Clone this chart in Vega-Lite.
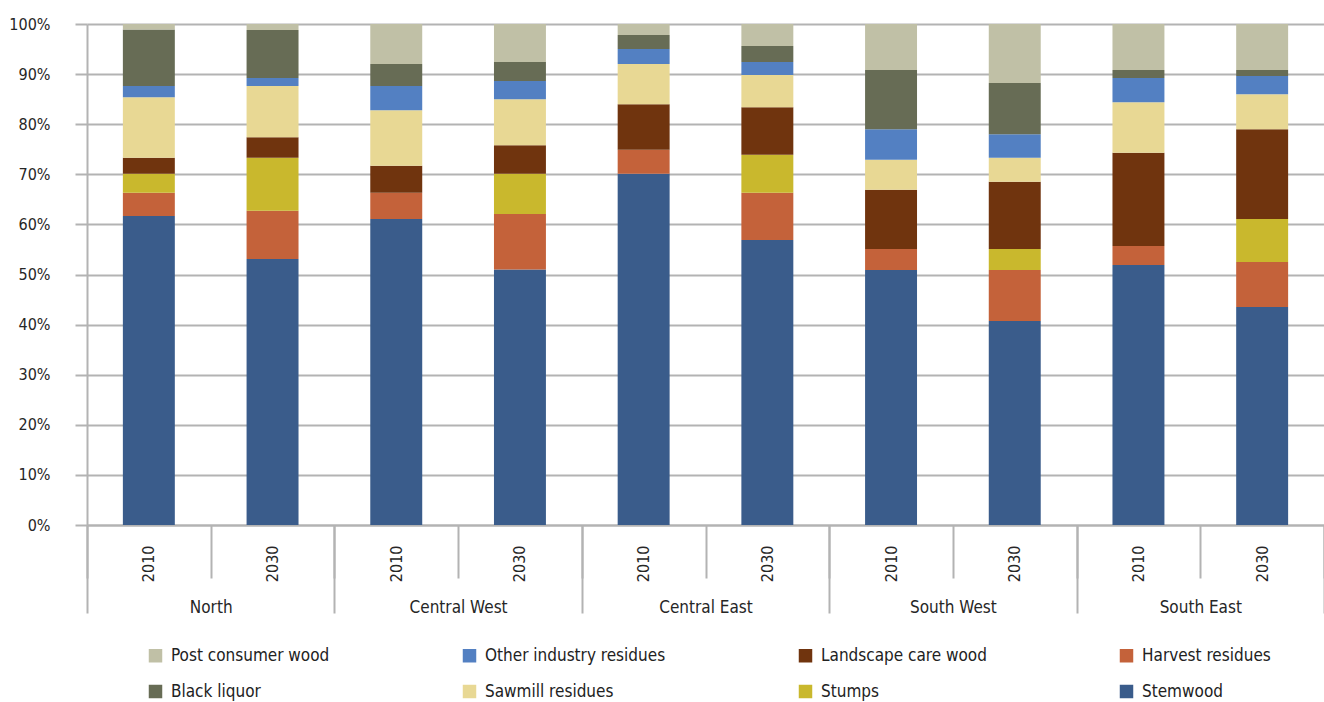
{
  "$schema": "https://vega.github.io/schema/vega-lite/v6.json",
  "width": 1237,
  "height": 501,
  "autosize": {"type": "none"},
  "padding": {"left": 87, "top": 24, "right": 0, "bottom": 177},
  "config": {"view": {"stroke": null}, "font": "Liberation Sans Narrow, DejaVu Sans Condensed, sans-serif"},
  "data": {"values": [
    {"region": "North", "year": "2010", "Stemwood": 61.7, "Harvest residues": 4.6, "Stumps": 3.8, "Landscape care wood": 3.2, "Sawmill residues": 12.1, "Other industry residues": 2.2, "Black liquor": 11.3, "Post consumer wood": 1.1},
    {"region": "North", "year": "2030", "Stemwood": 53.1, "Harvest residues": 9.6, "Stumps": 10.6, "Landscape care wood": 4.1, "Sawmill residues": 10.2, "Other industry residues": 1.6, "Black liquor": 9.6, "Post consumer wood": 1.2},
    {"region": "Central West", "year": "2010", "Stemwood": 61.1, "Harvest residues": 5.2, "Stumps": 0, "Landscape care wood": 5.4, "Sawmill residues": 11.1, "Other industry residues": 4.8, "Black liquor": 4.4, "Post consumer wood": 8.0},
    {"region": "Central West", "year": "2030", "Stemwood": 51.0, "Harvest residues": 11.1, "Stumps": 8.0, "Landscape care wood": 5.7, "Sawmill residues": 9.2, "Other industry residues": 3.6, "Black liquor": 3.8, "Post consumer wood": 7.6},
    {"region": "Central East", "year": "2010", "Stemwood": 70.1, "Harvest residues": 4.8, "Stumps": 0, "Landscape care wood": 9.1, "Sawmill residues": 8.0, "Other industry residues": 3.0, "Black liquor": 2.8, "Post consumer wood": 2.2},
    {"region": "Central East", "year": "2030", "Stemwood": 56.9, "Harvest residues": 9.4, "Stumps": 7.6, "Landscape care wood": 9.5, "Sawmill residues": 6.4, "Other industry residues": 2.6, "Black liquor": 3.2, "Post consumer wood": 4.4},
    {"region": "South West", "year": "2010", "Stemwood": 50.9, "Harvest residues": 4.2, "Stumps": 0, "Landscape care wood": 11.8, "Sawmill residues": 6.0, "Other industry residues": 6.1, "Black liquor": 11.8, "Post consumer wood": 9.2},
    {"region": "South West", "year": "2030", "Stemwood": 40.7, "Harvest residues": 10.2, "Stumps": 4.2, "Landscape care wood": 13.4, "Sawmill residues": 4.8, "Other industry residues": 4.7, "Black liquor": 10.2, "Post consumer wood": 11.8},
    {"region": "South East", "year": "2010", "Stemwood": 51.9, "Harvest residues": 3.8, "Stumps": 0, "Landscape care wood": 18.6, "Sawmill residues": 10.1, "Other industry residues": 4.8, "Black liquor": 1.6, "Post consumer wood": 9.2},
    {"region": "South East", "year": "2030", "Stemwood": 43.5, "Harvest residues": 9.0, "Stumps": 8.6, "Landscape care wood": 17.9, "Sawmill residues": 7.0, "Other industry residues": 3.6, "Black liquor": 1.2, "Post consumer wood": 9.2}
  ]},
  "layer": [
    {
      "transform": [
        {"fold": ["Stemwood", "Harvest residues", "Stumps", "Landscape care wood", "Sawmill residues", "Other industry residues", "Black liquor", "Post consumer wood"], "as": ["source", "share"]},
        {"calculate": "datum.region + ' ' + datum.year", "as": "bar"},
        {"calculate": "indexof(['Stemwood', 'Harvest residues', 'Stumps', 'Landscape care wood', 'Sawmill residues', 'Other industry residues', 'Black liquor', 'Post consumer wood'], datum.source)", "as": "ord"}
      ],
      "mark": {"type": "bar", "width": {"band": 0.42}},
      "encoding": {
        "x": {
          "field": "bar", "type": "nominal",
          "sort": ["North 2010", "North 2030", "Central West 2010", "Central West 2030", "Central East 2010", "Central East 2030", "South West 2010", "South West 2030", "South East 2010", "South East 2030"],
          "scale": {"paddingInner": 0, "paddingOuter": 0},
          "axis": {
            "orient": "bottom", "title": null, "labelAngle": -90,
            "labelExpr": "slice(datum.label, -4)",
            "tickBand": "extent", "tickSize": 53, "labelPadding": -33,
            "domainColor": "#b3b3b3", "domainWidth": 2,
            "tickColor": "#b3b3b3", "tickWidth": 2,
            "labelFontSize": 16, "labelColor": "#262626", "grid": false
          }
        },
        "y": {
          "field": "share", "type": "quantitative", "stack": "zero",
          "scale": {"domain": [0, 100]},
          "axis": {
            "title": null, "values": [0, 10, 20, 30, 40, 50, 60, 70, 80, 90, 100],
            "labelExpr": "datum.value + '%'",
            "tickSize": 12, "labelPadding": 25,
            "grid": true, "gridColor": "#b3b3b3", "gridWidth": 2,
            "domainColor": "#b3b3b3", "domainWidth": 2,
            "tickColor": "#b3b3b3", "tickWidth": 2,
            "labelFontSize": 16, "labelColor": "#262626"
          }
        },
        "color": {
          "field": "source", "type": "nominal",
          "scale": {
            "domain": ["Post consumer wood", "Other industry residues", "Landscape care wood", "Harvest residues", "Black liquor", "Sawmill residues", "Stumps", "Stemwood"],
            "range": ["#C0C0A6", "#5380C2", "#70340E", "#C4623A", "#676C55", "#E8D894", "#C9B82D", "#3A5C8B"]
          },
          "legend": {
            "title": null, "orient": "none", "legendX": 60, "legendY": 623,
            "direction": "horizontal", "columns": 4, "columnPadding": 131, "rowPadding": 18,
            "symbolType": "square", "symbolSize": 182, "symbolStrokeWidth": 0, "symbolOpacity": 1,
            "labelOffset": 7, "labelFontSize": 17, "labelColor": "#222222", "labelLimit": 400
          }
        },
        "order": {"field": "ord", "type": "quantitative", "sort": "ascending"}
      }
    },
    {
      "mark": {"type": "rule", "opacity": 0},
      "encoding": {
        "x": {
          "field": "region", "type": "nominal",
          "sort": ["North", "Central West", "Central East", "South West", "South East"],
          "scale": {"type": "band", "paddingInner": 0, "paddingOuter": 0},
          "axis": {
            "orient": "bottom", "title": null, "labelAngle": 0,
            "tickBand": "extent", "tickSize": 88, "labelPadding": -14,
            "domain": false, "tickColor": "#b3b3b3", "tickWidth": 2,
            "labelFontSize": 17, "labelColor": "#262626", "grid": false
          }
        }
      }
    }
  ],
  "resolve": {"scale": {"x": "independent"}, "axis": {"x": "independent"}}
}
